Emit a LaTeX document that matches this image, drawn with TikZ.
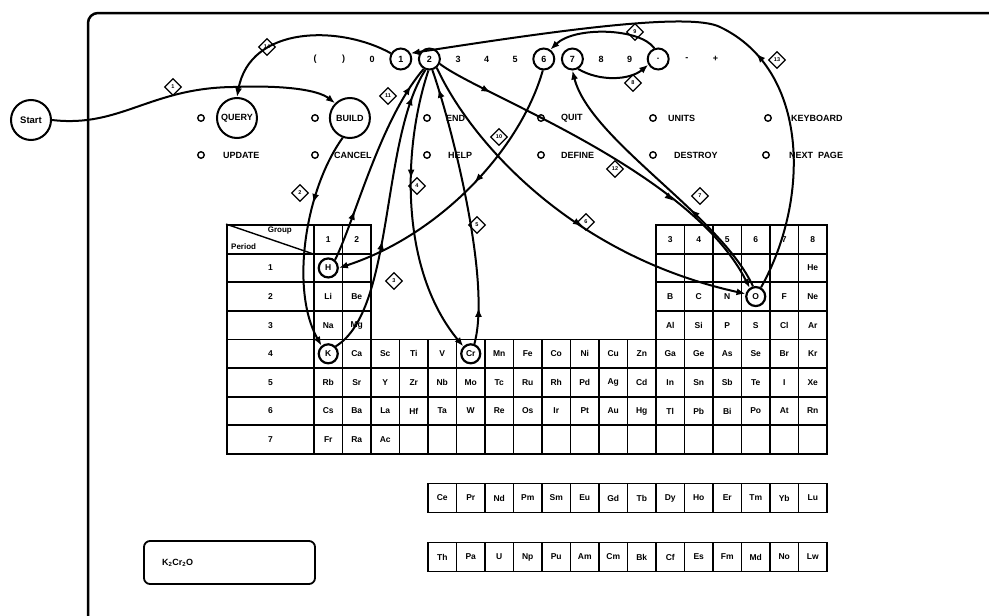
\documentclass[tikz,border=0pt]{standalone}
\usepackage{fontspec}
\setmainfont{Liberation Sans}
\usetikzlibrary{arrows.meta,positioning,shapes.geometric,decorations.markings}

\begin{document}
\begin{tikzpicture}[
  x=1pt,y=-1pt,
  font=\bfseries\fontsize{9}{10}\selectfont,
  keycap/.style={inner sep=0pt,minimum size=21pt},
  keyring/.style={keycap,circle,draw,line width=2pt},
  radio/.style={circle,draw,line width=1.4pt,inner sep=0pt,minimum size=6.5pt},
  menutxt/.style={inner sep=0pt},
  modering/.style={circle,draw,line width=2pt,minimum size=40pt,inner sep=0pt},
  cell/.style={draw,line width=1.8pt,minimum width=28.5pt,minimum height=28.6pt,inner sep=0pt,font=\bfseries\fontsize{8.5}{9}\selectfont},
  pcell/.style={cell,minimum width=87pt},
  ring/.style={circle,draw,line width=2.2pt,minimum size=19pt,inner sep=0pt},
  tag/.style={diamond,draw,line width=1.3pt,inner sep=0.6pt,minimum size=17pt,font=\bfseries\fontsize{5.5}{6}\selectfont},
  small/.style={inner sep=0pt,font=\bfseries\fontsize{8}{8}\selectfont},
  link/.style={line width=2pt},
  flow/.style={link,-{Latex[length=9pt,width=7pt]}},
  midtip/.style={postaction={decorate},decoration={markings,
    mark=at position #1 with {\arrow{Latex[length=9pt,width=7pt]}}}},
  midtips/.style 2 args={postaction={decorate},decoration={markings,
    mark=at position #1 with {\arrow{Latex[length=9pt,width=7pt]}},
    mark=at position #2 with {\arrow{Latex[length=9pt,width=7pt]}}}},
  formbox/.style={draw,line width=1.8pt,rounded corners=6pt,minimum height=43pt,text width=135pt,inner xsep=18pt,align=left},
]
  \useasboundingbox (0,0) rectangle (989,616);
  \draw[line width=2.5pt,rounded corners=10pt] (989,13) -| (88,616);

  \node[modering,font=\bfseries\fontsize{9.5}{10}\selectfont] (start) at (31,120) {Start};

  % keyboard row
  \foreach \lb/\i in {{(}/0,{)}/1,0/2,3/5,4/6,5/7,8/10,9/11,-/13,+/14}
    \node[keycap] (key\i) at ({315+28.6*\i},59) {\lb};
  \node[keyring] (k1) at (400.8,59) {1};
  \node[keyring] (k2) at (429.4,59) {2};
  \node[keyring] (k6) at (543.8,59) {6};
  \node[keyring] (k7) at (572.4,59) {7};
  \node[keyring] (kdot) at (658.2,59) {.};

  % menu
  \foreach \nm/\bx/\by/\gap/\txt in {query/201/118/16/QUERY, build/315/118/17/BUILD,
      end/427/118/15/END, quit/541/118/16/QUIT, units/653/118/11/UNITS,
      keyboard/768/118/19/KEYBOARD, update/201/155/18/UPDATE, cancel/315/155/15/CANCEL,
      help/427/155/17/HELP, define/541/155/16/DEFINE, destroy/653/155/17/DESTROY,
      nextpage/766/155/19/{NEXT\ \ PAGE}} {
    \node[radio] (r-\nm) at (\bx,\by) {};
    \node[menutxt,right=\gap pt of r-\nm] (m-\nm) {\txt};
  }
  \node[modering] (query) at (m-query) {};
  \node[modering] (build) at (m-build) {};

  % periodic table
  \node[pcell] (p0) at (270.5,239.31) {};
  \draw[line width=1.4pt] (p0.north west) -- (p0.south east);
  \node[small,anchor=north east] (grp) at (292,227) {Group};
  \node[small,anchor=south west] (per) at (231,250) {Period};
  \foreach \r in {1,...,7}
    \node[pcell] (p\r) at (270.5,{239.31+28.625*\r}) {\r};

  \foreach \g [count=\j] in {1,2}
    \node[cell] (c0-\j) at ({299.75+28.5*\j},239.31) {\g};
  \foreach \g [count=\j from 13] in {3,...,8}
    \node[cell] (c0-\j) at ({299.75+28.5*\j},239.31) {\g};
  \node[cell] (c1-1) at (328.25,267.94) {H};
  \node[cell] (c1-2) at (356.75,267.94) {};
  \foreach \j in {13,...,17}
    \node[cell] (c1-\j) at ({299.75+28.5*\j},267.94) {};
  \node[cell] (c1-18) at (812.75,267.94) {He};
  \foreach \el [count=\j] in {Li,Be}
    \node[cell] (c2-\j) at ({299.75+28.5*\j},296.56) {\el};
  \foreach \el [count=\j from 13] in {B,C,N,O,F,Ne}
    \node[cell] (c2-\j) at ({299.75+28.5*\j},296.56) {\el};
  \foreach \el [count=\j] in {Na,Mg}
    \node[cell] (c3-\j) at ({299.75+28.5*\j},325.19) {\el};
  \foreach \el [count=\j from 13] in {Al,Si,P,S,Cl,Ar}
    \node[cell] (c3-\j) at ({299.75+28.5*\j},325.19) {\el};
  \foreach \el [count=\j] in {K,Ca,Sc,Ti,V,Cr,Mn,Fe,Co,Ni,Cu,Zn,Ga,Ge,As,Se,Br,Kr}
    \node[cell] (c4-\j) at ({299.75+28.5*\j},353.81) {\el};
  \foreach \el [count=\j] in {Rb,Sr,Y,Zr,Nb,Mo,Tc,Ru,Rh,Pd,Ag,Cd,In,Sn,Sb,Te,I,Xe}
    \node[cell] (c5-\j) at ({299.75+28.5*\j},382.44) {\el};
  \foreach \el [count=\j] in {Cs,Ba,La,Hf,Ta,W,Re,Os,Ir,Pt,Au,Hg,Tl,Pb,Bi,Po,At,Rn}
    \node[cell] (c6-\j) at ({299.75+28.5*\j},411.06) {\el};
  \foreach \el [count=\j] in {Fr,Ra,Ac}
    \node[cell] (c7-\j) at ({299.75+28.5*\j},439.69) {\el};
  \foreach \j in {4,...,18}
    \node[cell] (c7-\j) at ({299.75+28.5*\j},439.69) {};

  \foreach \el [count=\j from 5] in {Ce,Pr,Nd,Pm,Sm,Eu,Gd,Tb,Dy,Ho,Er,Tm,Yb,Lu}
    \node[cell,minimum height=29pt] (ln-\j) at ({299.75+28.5*\j},498) {\el};
  \foreach \el [count=\j from 5] in {Th,Pa,U,Np,Pu,Am,Cm,Bk,Cf,Es,Fm,Md,No,Lw}
    \node[cell,minimum height=29pt] (ac-\j) at ({299.75+28.5*\j},557) {\el};

  \node[ring] (H) at (c1-1) {};
  \node[ring] (K) at (c4-1) {};
  \node[ring] (Cr) at (c4-6) {};
  \node[ring] (O) at (c2-16) {};

  \node[formbox] (formula) at (229.5,562.5) {K\textsubscript{2}Cr\textsubscript{2}O};

  % key sequence
  \draw[flow] (start.east) .. controls (120,128) and (150,88) .. (233,87)
    .. controls (285,85) and (318,90) .. (build.135);
  \draw[flow,midtip=0.33] (build.250) .. controls (305,190) and (290,290) .. (K.130);
  \draw[link,midtips={0.4}{0.9}] (K.45) .. controls (395,310) and (380,140) .. (k2.250);
  \draw[flow,midtip=0.38] (k2.265) .. controls (402,150) and (400,270) .. (Cr.135);
  \draw[link,midtips={0.13}{0.93}] (Cr.70) .. controls (492,280) and (450,120) .. (k2.285);
  \draw[flow,midtip=0.55] (k2.310) .. controls (470,140) and (570,255) .. (O.165);
  \draw[flow,midtip=0.35] (O.105) .. controls (720,215) and (590,140) .. (k7.south);
  \draw[flow] (k7.-60) .. controls (600,82) and (630,80) .. (kdot.-150);
  \draw[flow] (kdot.110) .. controls (640,28) and (575,26) .. (k6.55);
  \draw[flow,midtip=0.45] (k6.265) .. controls (520,150) and (440,235) .. (H.east);
  \draw[link,midtips={0.25}{0.9}] (H.50) .. controls (355,220) and (380,120) .. (k2.240);
  \draw[flow,midtips={0.15}{0.7}] (k2.335) .. controls (480,95) and (690,170) .. (O.125);
  \draw[flow,midtip=0.41] (O.60) .. controls (810,200) and (810,70) .. (720,27)
    .. controls (690,12) and (560,30) .. (k1.30);
  \draw[flow] (k1.150) .. controls (340,25) and (250,25) .. (query.north);

  \foreach \n/\x/\y in {1/173/87, 2/300/193, 3/394/281, 4/417/186, 5/477/225,
      6/586/222, 7/700/196, 8/633/83, 9/635/32, 10/499/137, 11/388/96,
      12/615/169, 13/777/60, 14/267/47}
    \node[tag] (tag\n) at (\x,\y) {\n};
\end{tikzpicture}
\end{document}
